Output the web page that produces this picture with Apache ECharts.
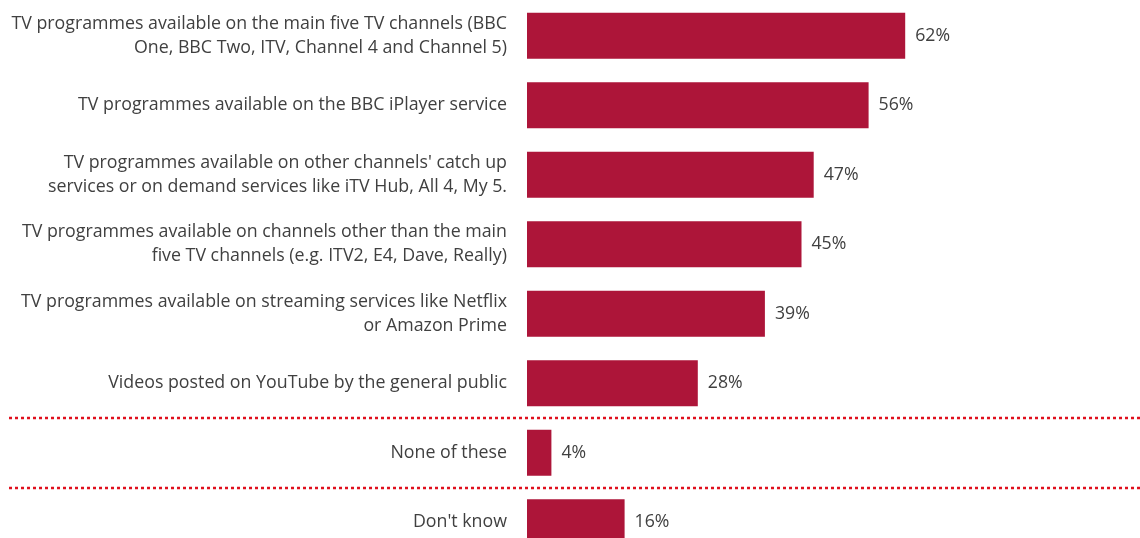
<!DOCTYPE html>
<html>
<head>
<meta charset="utf-8">
<script src="https://cdn.jsdelivr.net/npm/echarts@6/dist/echarts.min.js"></script>
<style>
html,body{margin:0;padding:0;background:#fff;}
#chart{width:1140px;height:538px;}
</style>
</head>
<body>
<div id="chart"></div>
<script>
var categories = [
  "TV programmes available on the main five TV channels (BBC\nOne, BBC Two, ITV, Channel 4 and Channel 5)",
  "TV programmes available on the BBC iPlayer service",
  "TV programmes available on other channels' catch up\nservices or on demand services like iTV Hub, All 4, My 5.",
  "TV programmes available on channels other than the main\nfive TV channels (e.g. ITV2, E4, Dave, Really)",
  "TV programmes available on streaming services like Netflix\nor Amazon Prime",
  "Videos posted on YouTube by the general public",
  "None of these",
  "Don't know"
];
var values = [62, 56, 47, 45, 39, 28, 4, 16];
var separatorsAfter = [5, 6]; // dotted line after these category indices

var chart = echarts.init(document.getElementById('chart'));
var font = '"Open Sans", sans-serif';
chart.setOption({
  animation: false,
  grid: {left: 527, width: 610, top: 1, height: 556, containLabel: false, outerBoundsMode: 'none'},
  xAxis: {type: 'value', min: 0, max: 100, show: false},
  yAxis: {
    type: 'category', inverse: true, data: categories,
    axisLine: {show: false}, axisTick: {show: false}, splitLine: {show: false},
    axisLabel: {margin: 20, color: '#404040', fontSize: 17.8, fontFamily: font, lineHeight: 24, align: 'right'}
  },
  series: [{
    type: 'bar', data: values, barWidth: 46,
    itemStyle: {color: '#ad1539'},
    label: {show: true, position: 'right', distance: 10, formatter: '{c}%', color: '#404040', fontSize: 17.7, fontFamily: font}
  }]
});

var gfx = separatorsAfter.map(function (i) {
  var y1 = chart.convertToPixel({yAxisIndex: 0}, categories[i]);
  var y2 = chart.convertToPixel({yAxisIndex: 0}, categories[i + 1]);
  var y = Math.round((y1 + y2) / 2);
  return {
    type: 'line', shape: {x1: 9, y1: y, x2: 1140, y2: y},
    style: {stroke: '#e0101e', lineWidth: 2.5, lineDash: [3, 3]}
  };
});
chart.setOption({graphic: gfx});
</script>
</body>
</html>
